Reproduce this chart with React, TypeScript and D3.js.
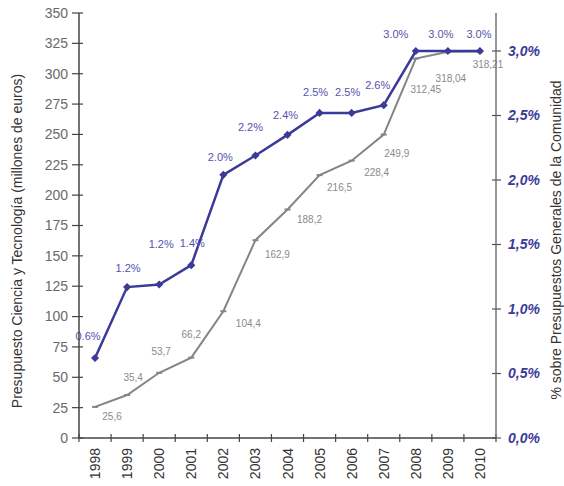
import * as d3 from 'd3';

const years = ['1998', '1999', '2000', '2001', '2002', '2003', '2004', '2005', '2006', '2007', '2008', '2009', '2010'];
const budget = [25.6, 35.4, 53.7, 66.2, 104.4, 162.9, 188.2, 216.5, 228.4, 249.9, 312.45, 318.04, 318.21];
const budgetLabels = ['25,6', '35,4', '53,7', '66,2', '104,4', '162,9', '188,2', '216,5', '228,4', '249,9', '312,45', '318,04', '318,21'];
const share = [0.62, 1.17, 1.19, 1.34, 2.04, 2.19, 2.35, 2.52, 2.52, 2.58, 3.0, 3.0, 3.0];
const shareLabels = ['0.6%', '1.2%', '1.2%', '1.4%', '2.0%', '2.2%', '2.4%', '2.5%', '2.5%', '2.6%', '3.0%', '3.0%', '3.0%'];
const leftTicks = [0, 25, 50, 75, 100, 125, 150, 175, 200, 225, 250, 275, 300, 325, 350];
const rightTicks = [0, 0.5, 1.0, 1.5, 2.0, 2.5, 3.0];

// label nudges (px), tuned by eye against the original
const grayNudge = [[17, 13], [6, -14], [2, -18], [0, -20], [25, 16], [22, 18], [22, 14], [20, 16], [25, 15], [13, 22], [10, 34], [3, 30], [8, 16]];
const blueNudge = [[-7, -18], [1, -15], [2, -36], [1, -18], [-3, -14], [-5, -24], [-2, -16], [-4, -17], [-4, -17], [-6, -16], [-20, -13], [-7, -13], [-1, -13]];

const W = 564;
const H = 486;
const left = 79;
const right = 496;
const top = 13;
const bottom = 438;

const blue = '#3c3a98';
const blueText = '#5551b0';
const gray = '#858585';
const font = 'Arial, "Liberation Sans", sans-serif';

export default function App() {
  const x = d3.scaleBand<string>().domain(years).range([left, right]).padding(0);
  const cx = (i: number) => (x(years[i]) as number) + x.bandwidth() / 2;
  const yL = d3.scaleLinear().domain([0, 350]).range([bottom, top]);
  const yR = d3.scaleLinear().domain([0, 3.2946]).range([bottom, top]);

  const grayLine = d3.line<number>().x((_, i) => cx(i)).y(d => yL(d))(budget) as string;
  const blueLine = d3.line<number>().x((_, i) => cx(i)).y(d => yR(d))(share) as string;
  const diamond = d3.symbol(d3.symbolDiamond2, 42)() as string;

  const boundaries = d3.range(years.length + 1).map(i => left + i * x.bandwidth());

  return (
    <svg width={W} height={H} style={{ position: 'absolute', left: 0, top: 0, background: '#fff' }} fontFamily={font}>
      {/* gray budget line */}
      <path d={grayLine} fill="none" stroke={gray} strokeWidth={2} />
      {budget.map((d, i) => (
        <line key={'gm' + i} x1={cx(i) - 3} x2={cx(i) + 3} y1={yL(d)} y2={yL(d)} stroke={gray} strokeWidth={2} />
      ))}
      {budget.map((d, i) => (
        <text key={'gl' + i} x={cx(i) + grayNudge[i][0]} y={yL(d) + grayNudge[i][1]} fontSize={10} fill="#8a8a8a" textAnchor="middle">
          {budgetLabels[i]}
        </text>
      ))}

      {/* blue share line */}
      <path d={blueLine} fill="none" stroke={blue} strokeWidth={2.5} />
      {share.map((d, i) => (
        <path key={'bm' + i} d={diamond} transform={`translate(${cx(i)},${yR(d)})`} fill={blue} />
      ))}
      {share.map((d, i) => (
        <text key={'bl' + i} x={cx(i) + blueNudge[i][0]} y={yR(d) + blueNudge[i][1]} fontSize={11} fill={blueText} textAnchor="middle">
          {shareLabels[i]}
        </text>
      ))}

      {/* left axis */}
      <line x1={left} x2={left} y1={top} y2={bottom} stroke="#444" strokeWidth={1.5} />
      {leftTicks.map(t => (
        <g key={'lt' + t}>
          <line x1={left - 7} x2={left + 4} y1={yL(t)} y2={yL(t)} stroke="#444" strokeWidth={1.2} />
          <text x={left - 11} y={yL(t)} dy="0.35em" fontSize={14} fill="#6a6a6a" textAnchor="end">
            {t}
          </text>
        </g>
      ))}

      {/* x axis */}
      <line x1={left} x2={right} y1={bottom} y2={bottom} stroke="#444" strokeWidth={1.5} />
      {boundaries.map((b, i) => (
        <line key={'xt' + i} x1={b} x2={b} y1={bottom - 4} y2={bottom + 4} stroke="#444" strokeWidth={1.2} />
      ))}
      {years.map((yr, i) => (
        <text key={'xl' + yr} transform={`translate(${cx(i)},${bottom + 10}) rotate(-90)`} dy="0.36em" fontSize={14} fill="#333" textAnchor="end">
          {yr}
        </text>
      ))}

      {/* right axis */}
      <line x1={right} x2={right} y1={top} y2={bottom} stroke="#777" strokeWidth={1.5} />
      {rightTicks.map(t => (
        <g key={'rt' + t}>
          <line x1={right - 4} x2={right + 5} y1={yR(t)} y2={yR(t)} stroke="#555" strokeWidth={1.2} />
          <text x={right + 12} y={yR(t)} dy="0.35em" fontSize={14} fontStyle="italic" fontWeight="bold" fill={blue}>
            {t.toFixed(1).replace('.', ',') + '%'}
          </text>
        </g>
      ))}

      {/* axis titles */}
      <text transform={`translate(17,241) rotate(-90)`} dy="0.35em" fontSize={14} fill="#333" textAnchor="middle">
        Presupuesto Ciencia y Tecnología (millones de euros)
      </text>
      <text transform={`translate(556,240) rotate(-90)`} dy="0.35em" fontSize={14} fill="#333" textAnchor="middle">
        % sobre Presupuestos Generales de la Comunidad
      </text>
    </svg>
  );
}
